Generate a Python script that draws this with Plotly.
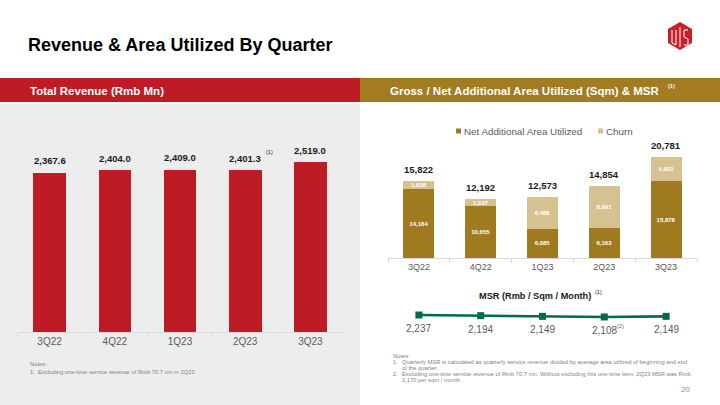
import plotly.graph_objects as go

# ---------------- data ----------------
quarters = ["3Q22", "4Q22", "1Q23", "2Q23", "3Q23"]
revenue = [2367.6, 2404.0, 2409.0, 2401.3, 2519.0]
net_area = [14184, 10655, 6085, 6163, 15878]
churn_area = [1638, 1537, 6488, 8691, 4903]
msr = [2237, 2194, 2149, 2108, 2149]
series_names = ["Net Additional Area Utilized", "Churn"]

title_text = "Revenue & Area Utilized By Quarter"
left_header = "Total Revenue (Rmb Mn)"
right_header = "Gross / Net Additional Area Utilized (Sqm) & MSR"
msr_title = "MSR (Rmb / Sqm / Month)"
left_notes = ["Notes:", "1.", "Excluding one-time service revenue of Rmb 70.7 mn in 2Q23."]
right_notes = [
    ("1.", "Quarterly MSR is calculated as quarterly service revenue divided by average area utilized of beginning and end"),
    ("", "of the quarter."),
    ("2.", "Excluding one-time service revenue of Rmb 70.7 mn. Without excluding this one-time item, 2Q23 MSR was Rmb"),
    ("", "2,170 per sqm / month."),
]
page_no = "20"

# ---------------- style ----------------
W, H = 720, 405
FONT = "Liberation Sans, Arial, sans-serif"
RED = "#BE1B24"
GOLD = "#A37B20"
NET = "#A07A1F"
CHURN = "#D6C291"
GREEN = "#006A4E"
GRAY_TXT = "#595959"
PANEL = "#EDEDED"
AXIS = "#D9D9D9"


def px(x):
    return x / W


def py(y):
    return 1 - y / H


totals = [n + c for n, c in zip(net_area, churn_area)]

fig = go.Figure()

fig.add_trace(go.Bar(
    x=quarters, y=revenue, marker=dict(color=RED, line=dict(width=0)),
    width=0.5, xaxis="x", yaxis="y", showlegend=False, hoverinfo="skip"))

fig.add_trace(go.Bar(
    x=quarters, y=net_area, name=series_names[0],
    marker=dict(color=NET, line=dict(width=0)), width=0.5,
    xaxis="x2", yaxis="y2", showlegend=False,
    text=[f"{v:,}" for v in net_area], textposition="inside",
    insidetextanchor="middle", textangle=0, constraintext="none",
    textfont=dict(color="white", size=6, family=FONT, weight="bold"),
    hoverinfo="skip"))
fig.add_trace(go.Bar(
    x=quarters, y=churn_area, name=series_names[1],
    marker=dict(color=CHURN, line=dict(width=0)), width=0.5,
    xaxis="x2", yaxis="y2", showlegend=False,
    text=[f"{v:,}" for v in churn_area], textposition="inside",
    insidetextanchor="middle", textangle=0, constraintext="none",
    textfont=dict(color="white", size=6, family=FONT, weight="bold"),
    hoverinfo="skip"))

fig.add_trace(go.Scatter(
    x=quarters, y=msr, mode="lines+markers",
    line=dict(color=GREEN, width=2.6),
    marker=dict(symbol="square", size=7, color=GREEN),
    xaxis="x3", yaxis="y3", showlegend=False, hoverinfo="skip"))

cat_axis = dict(
    type="category", range=[-0.5, 4.5], showline=True, linecolor=AXIS,
    linewidth=1, ticks="outside", tickson="boundaries", ticklen=4,
    tickcolor=AXIS, showgrid=False, zeroline=False, fixedrange=True)

annotations = []
shapes = []

# backgrounds / bands
shapes.append(dict(type="rect", xref="paper", yref="paper", x0=0, x1=px(360),
                   y0=0, y1=py(104), fillcolor=PANEL, line=dict(width=0), layer="below"))
shapes.append(dict(type="rect", xref="paper", yref="paper", x0=0, x1=px(360),
                   y0=py(102), y1=py(78), fillcolor=RED, line=dict(width=0), layer="below"))
shapes.append(dict(type="rect", xref="paper", yref="paper", x0=px(360), x1=1,
                   y0=py(102), y1=py(78), fillcolor=GOLD, line=dict(width=0), layer="below"))

# logo (hexagon with white strokes)
hx = [(680, 22), (692, 29), (692, 43), (680, 50), (668, 43), (668, 29)]
path = "M " + " L ".join(f"{px(a):.5f},{py(b):.5f}" for a, b in hx) + " Z"
shapes.append(dict(type="path", xref="paper", yref="paper", path=path,
                   fillcolor="#C8202B", line=dict(width=0)))
for (x0, y0, x1, y1) in [(672, 30, 672, 43), (672, 43, 676, 45), (676, 30, 676, 45),
                         (680, 27, 680, 47), (684, 30, 688, 30), (684, 30, 684, 37),
                         (684, 37, 688, 39), (688, 39, 688, 45), (688, 45, 684, 45)]:
    shapes.append(dict(type="line", xref="paper", yref="paper",
                       x0=px(x0), y0=py(y0), x1=px(x1), y1=py(y1),
                       line=dict(color="white", width=1)))


def ann(text, x, y, size, color=GRAY_TXT, bold=False, xanchor="left", yanchor="middle"):
    annotations.append(dict(
        text=text, x=px(x), y=py(y), xref="paper", yref="paper",
        xanchor=xanchor, yanchor=yanchor, showarrow=False,
        font=dict(family=FONT, size=size, color=color, weight="bold" if bold else "normal")))


ann(title_text, 26, 45, 18, color="#000000", bold=True)
ann(left_header, 28, 91, 11.5, color="white", bold=True)
ann(right_header, 388, 91, 11.5, color="white", bold=True)
ann("(1)", 666, 86, 5.5, color="white", bold=True)

# left bar labels
for q, v in zip(quarters, revenue):
    annotations.append(dict(text=f"{v:,.1f}", x=q, y=v, xref="x", yref="y",
                            yshift=12, showarrow=False, xanchor="center", yanchor="middle",
                            font=dict(family=FONT, size=9.5, color="#1A1A1A", weight="bold")))
annotations.append(dict(text="(1)", x=quarters[3], y=revenue[3], xref="x", yref="y",
                        xshift=24, yshift=18, showarrow=False, xanchor="center",
                        yanchor="middle", font=dict(family=FONT, size=5.5, color="#1A1A1A")))

# right totals
for q, t in zip(quarters, totals):
    annotations.append(dict(text=f"{t:,}", x=q, y=t, xref="x2", yref="y2",
                            yshift=11.5, showarrow=False, xanchor="center", yanchor="middle",
                            font=dict(family=FONT, size=9.5, color="#1A1A1A", weight="bold")))

# legend (manual)
shapes.append(dict(type="rect", xref="paper", yref="paper", x0=px(456), x1=px(461),
                   y0=py(133.5), y1=py(128.5), fillcolor=NET, line=dict(width=0)))
ann(series_names[0], 461.5, 131, 9.8)
shapes.append(dict(type="rect", xref="paper", yref="paper", x0=px(598), x1=px(603),
                   y0=py(133.5), y1=py(128.5), fillcolor=CHURN, line=dict(width=0)))
ann(series_names[1], 603.5, 131, 9.8)

# MSR
ann(msr_title, 534.5, 296, 9.2, color="#1A1A1A", bold=True, xanchor="center")
ann("(1)", 598, 292, 5.5, color="#1A1A1A", xanchor="center")
for q, v in zip(quarters, msr):
    annotations.append(dict(text=f"{v:,}", x=q, y=v, xref="x3", yref="y3",
                            yshift=-13.5, showarrow=False, xanchor="center", yanchor="middle",
                            font=dict(family=FONT, size=10, color=GRAY_TXT)))
annotations.append(dict(text="(2)", x=quarters[3], y=msr[3], xref="x3", yref="y3",
                        xshift=16, yshift=-9, showarrow=False, xanchor="center",
                        yanchor="middle", font=dict(family=FONT, size=5.5, color=GRAY_TXT)))

# notes
NOTE = "#7F7F7F"
ann(left_notes[0], 28, 363.5, 5.8, color=NOTE)
ann(left_notes[1], 28, 372, 5.8, color=NOTE)
ann(left_notes[2], 35.5, 372, 5.8, color=NOTE)

ann("Notes:", 391, 356, 5.8, color=NOTE)
for (num, txt), yy in zip(right_notes, [361.5, 367.5, 374, 380]):
    if num:
        ann(num, 391, yy, 5.8, color=NOTE)
    ann(txt, 399.5, yy, 5.8, color=NOTE)

ann(page_no, 692, 389.5, 8, color="#8C8C8C", xanchor="right")

fig.update_layout(
    width=W, height=H, margin=dict(l=0, r=0, t=0, b=0),
    paper_bgcolor="white", plot_bgcolor="rgba(0,0,0,0)",
    barmode="stack", showlegend=False,
    font=dict(family=FONT),
    xaxis=dict(cat_axis, domain=[px(17), px(343)], anchor="y",
               tickfont=dict(family=FONT, size=10, color=GRAY_TXT)),
    yaxis=dict(domain=[py(332), py(130)], range=[0, 3000], visible=False,
               fixedrange=True, anchor="x"),
    xaxis2=dict(cat_axis, domain=[px(388), px(697)], anchor="y2",
                tickfont=dict(family=FONT, size=9, color=GRAY_TXT)),
    yaxis2=dict(domain=[py(258), py(140)], range=[0, 24380], visible=False,
                fixedrange=True, anchor="x2"),
    xaxis3=dict(type="category", range=[-0.5, 4.5], domain=[px(388), px(697)],
                visible=False, anchor="y3", fixedrange=True),
    yaxis3=dict(domain=[py(332), py(300)], range=[1140.5, 3204.5], visible=False,
                anchor="x3", fixedrange=True),
    shapes=shapes, annotations=annotations,
)

fig.write_html(
    "out.html",
    config={"displayModeBar": False},
    post_script="document.body.style.margin='0';document.body.style.padding='0';document.body.style.overflow='hidden';",
)
